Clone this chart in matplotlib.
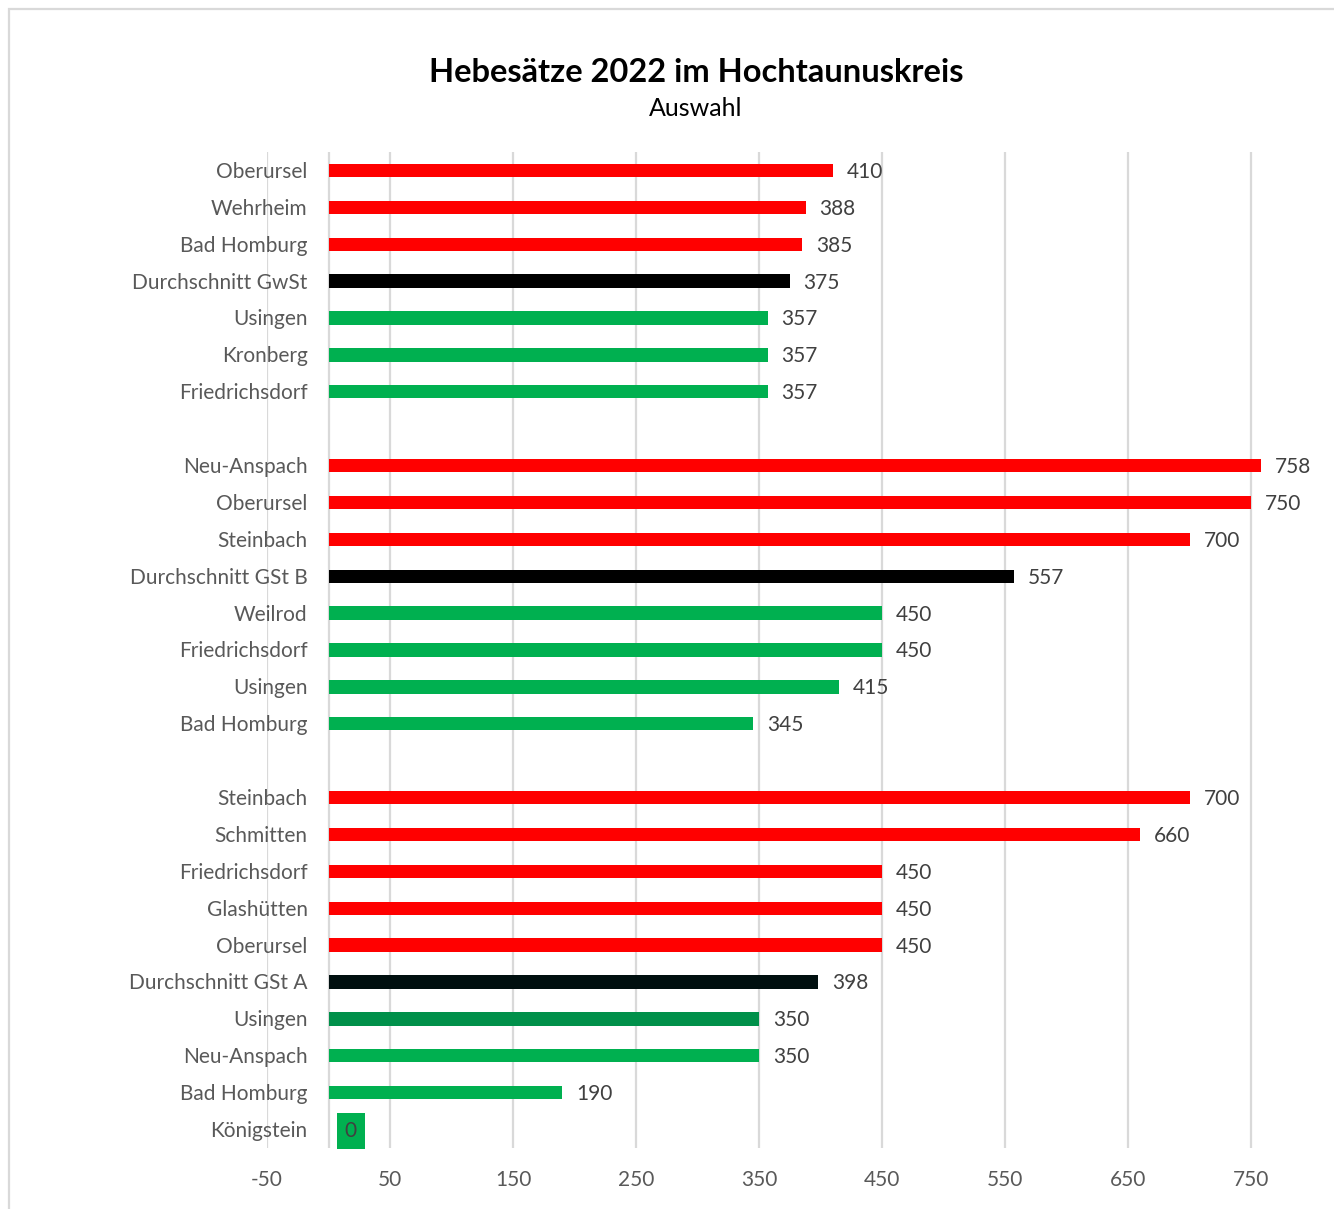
import matplotlib.pyplot as plt
from matplotlib.patches import Rectangle

plt.rcParams['font.family'] = ['Lato', 'DejaVu Sans']

# Grundsteuer / Gewerbesteuer Hebesätze, von oben nach unten
gwst_names = ['Oberursel', 'Wehrheim', 'Bad Homburg', 'Durchschnitt GwSt',
              'Usingen', 'Kronberg', 'Friedrichsdorf']
gwst_vals = [410, 388, 385, 375, 357, 357, 357]
gwst_cols = ['#FF0000', '#FF0000', '#FF0000', '#000000',
             '#00B050', '#00B050', '#00B050']

gstb_names = ['Neu-Anspach', 'Oberursel', 'Steinbach', 'Durchschnitt GSt B',
              'Weilrod', 'Friedrichsdorf', 'Usingen', 'Bad Homburg']
gstb_vals = [758, 750, 700, 557, 450, 450, 415, 345]
gstb_cols = ['#FF0000', '#FF0000', '#FF0000', '#000000',
             '#00B050', '#00B050', '#00B050', '#00B050']

gsta_names = ['Steinbach', 'Schmitten', 'Friedrichsdorf', 'Glashütten',
              'Oberursel', 'Durchschnitt GSt A', 'Usingen', 'Neu-Anspach',
              'Bad Homburg', 'Königstein']
gsta_vals = [700, 660, 450, 450, 450, 398, 350, 350, 190, 0]
gsta_cols = ['#FF0000', '#FF0000', '#FF0000', '#FF0000', '#FF0000',
             '#000F0F', '#00904A', '#00B050', '#00B050', '#00B050']

xticks = [-50, 50, 150, 250, 350, 450, 550, 650, 750]

names, vals, cols = [], [], []
for grp_n, grp_v, grp_c in [(gwst_names, gwst_vals, gwst_cols),
                            (gstb_names, gstb_vals, gstb_cols),
                            (gsta_names, gsta_vals, gsta_cols)]:
    if names:
        names.append(None)
        vals.append(None)
        cols.append(None)
    names += grp_n
    vals += grp_v
    cols += grp_c

fig = plt.figure(figsize=(13.34, 12.09), dpi=100)
W, H = 1334, 1209
ax = fig.add_axes([267 / W, 1 - 1148 / H, 1107 / W, (1148 - 152) / H])
ax.set_xlim(-50, 850)
ax.set_ylim(len(names) - 0.5, -0.5)

grey = '#595959'
fs = 15
for i, (n, v, c) in enumerate(zip(names, vals, cols)):
    if n is None:
        continue
    ax.annotate(n, (0, i), xytext=(-15, -1), textcoords='offset points',
                ha='right', va='center', fontsize=fs, color=grey)
    if v > 0:
        ax.barh(i, v, height=0.36, color=c, zorder=3)
        ax.annotate(str(v), (v, i), xytext=(10, -1), textcoords='offset points',
                    ha='left', va='center', fontsize=fs, color='#404040')
    else:
        ax.annotate(str(v), (0, i), xytext=(11.5, -1), textcoords='offset points',
                    ha='left', va='center', fontsize=fs, color='#404040',
                    bbox=dict(boxstyle='square,pad=0.38', fc=c, ec='none'),
                    zorder=4)

ax.set_xticks(xticks)
ax.set_xticklabels([str(t) for t in xticks])
ax.tick_params(axis='x', length=0, pad=16, labelsize=fs, labelcolor=grey)
ax.set_yticks([])
ax.grid(axis='x', color='#D9D9D9', lw=1.6, zorder=0)
ax.axvline(0, color='#D9D9D9', lw=1.6, zorder=1)
for s in ax.spines.values():
    s.set_visible(False)

fig.text(696 / W, 1 - 72 / H, 'Hebesätze 2022 im Hochtaunuskreis',
         ha='center', va='center', fontsize=23.5, fontweight='bold', color='black')
fig.text(696 / W, 1 - 109 / H, 'Auswahl', ha='center', va='center',
         fontsize=18, color='black')

fig.patches.append(Rectangle((9 / W, -0.01), 1.2, 1 - 9 / H + 0.01,
                             transform=fig.transFigure, fill=False,
                             ec='#D9D9D9', lw=1.6))

fig.savefig('out.png', dpi=100)
